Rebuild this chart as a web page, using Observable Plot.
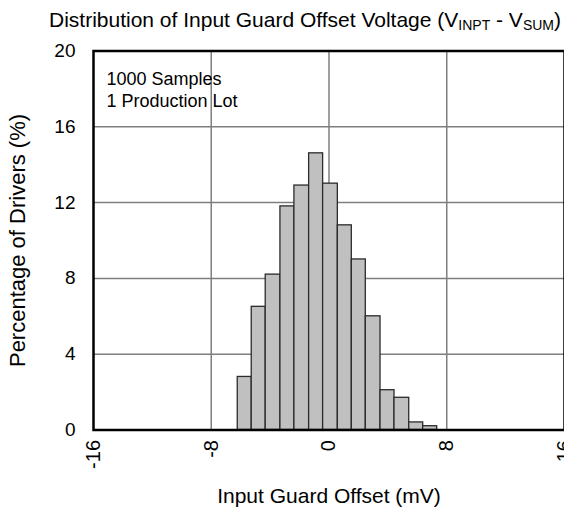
<!DOCTYPE html>
<html>
<head>
<meta charset="utf-8">
<script src="https://cdn.jsdelivr.net/npm/d3@7"></script>
<script src="https://cdn.jsdelivr.net/npm/@observablehq/plot@0.6"></script>
<style>
  html, body { margin: 0; padding: 0; background: #fff; }
  #wrap { position: relative; width: 564px; height: 513px; font-family: "Liberation Sans", Arial, sans-serif; color: #000; }
  #title { position: absolute; right: 3px; top: 9px; font-size: 21px; line-height: 1; white-space: nowrap; }
  #title .sub { font-size: 14px; vertical-align: -3px; }
  #chart { position: absolute; left: 0; top: 36px; }
</style>
</head>
<body>
<div id="wrap">
  <div id="title">Distribution of Input Guard Offset Voltage (V<span class="sub">INPT</span> - V<span class="sub">SUM</span>)</div>
  <div id="chart"></div>
</div>
<script>
// Histogram bin edges (mV) and percentage of drivers per bin
const binEdges = [-6.2, -5.25, -4.3, -3.3, -2.35, -1.35, -0.4, 0.6, 1.55, 2.5, 3.5, 4.45, 5.45, 6.4, 7.35];
const percents = [2.8, 6.5, 8.2, 11.8, 12.9, 14.6, 13.0, 10.8, 9.0, 6.0, 2.1, 1.7, 0.4, 0.2];
const xTicks = [-16, -8, 0, 8, 16];
const yTicks = [0, 4, 8, 12, 16, 20];
const xLabel = "Input Guard Offset (mV)";
const yLabel = "Percentage of Drivers (%)";
const noteText = "1000 Samples\n1 Production Lot";

const bars = percents.map((p, i) => ({x1: binEdges[i], x2: binEdges[i + 1], y: p}));

const chart = Plot.plot({
  width: 564,
  height: 477,
  marginTop: 14.5,
  marginBottom: 83.5,
  marginLeft: 93,
  marginRight: 0,
  style: {fontFamily: "Liberation Sans, Arial, sans-serif", color: "#000", background: "#fff"},
  x: {domain: [-16, 16]},
  y: {domain: [0, 20]},
  marks: [
    Plot.gridX([-8, 0, 8], {stroke: "#7f7f7f", strokeOpacity: 1, strokeWidth: 1.5}),
    Plot.gridY([4, 8, 12, 16], {stroke: "#7f7f7f", strokeOpacity: 1, strokeWidth: 1.5}),
    Plot.rectY(bars, {x1: "x1", x2: "x2", y: "y", fill: "#c0c0c0", stroke: "#2b2b2b", strokeWidth: 1.3}),
    Plot.frame({stroke: "#000", strokeWidth: 2.5}),
    Plot.axisY({ticks: yTicks, tickSize: 0, tickPadding: 18, fontSize: 19, label: null, tickFormat: d => String(d)}),
    Plot.axisX({ticks: xTicks, tickSize: 0, tickPadding: 10, tickRotate: -90, fontSize: 20, label: null, tickFormat: d => String(d)}),
    Plot.text([noteText], {frameAnchor: "top-left", textAnchor: "start", lineAnchor: "top", dx: 13, dy: 18, fontSize: 18, lineHeight: 1.22, fill: "#000"}),
    Plot.text([xLabel], {frameAnchor: "bottom", lineAnchor: "bottom", dy: 73, fontSize: 21, fill: "#000"}),
    Plot.text([yLabel], {frameAnchor: "left", rotate: -90, textAnchor: "middle", lineAnchor: "top", dx: -84, fontSize: 22, fill: "#000"})
  ]
});
document.getElementById("chart").appendChild(chart);
</script>
</body>
</html>
